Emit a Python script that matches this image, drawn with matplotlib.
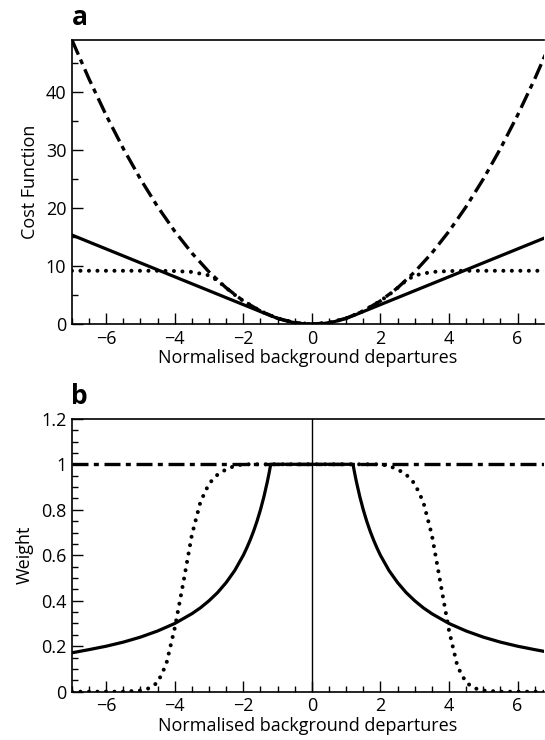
import matplotlib
matplotlib.use("Agg")
import matplotlib.pyplot as plt
from matplotlib.ticker import MultipleLocator

plt.rcParams["font.family"] = ["Open Sans", "DejaVu Sans"]

# panel a: cost functions
x_quad = [-7.0, -6.5, -6.0, -5.5, -5.0, -4.5, -4.0, -3.5, -3.0, -2.5, -2.0, -1.5, -1.0, -0.5,
          0.0, 0.5, 1.0, 1.5, 2.0, 2.5, 3.0, 3.5, 4.0, 4.5, 5.0, 5.5, 6.0, 6.5, 7.0]
cost_quad = [49.0, 42.25, 36.0, 30.25, 25.0, 20.25, 16.0, 12.25, 9.0, 6.25, 4.0, 2.25, 1.0, 0.25,
             0.0, 0.25, 1.0, 2.25, 4.0, 6.25, 9.0, 12.25, 16.0, 20.25, 25.0, 30.25, 36.0, 42.25, 49.0]

x_huber = [-7.0, -1.2, -1.0, -0.8, -0.6, -0.4, -0.2, 0.0, 0.2, 0.4, 0.6, 0.8, 1.0, 1.2, 7.0]
cost_huber = [15.36, 1.44, 1.0, 0.64, 0.36, 0.16, 0.04, 0.0, 0.04, 0.16, 0.36, 0.64, 1.0, 1.44, 15.36]

x_dot = [-7.0, -4.5, -4.0, -3.5, -3.0, -2.75, -2.5, -2.25, -2.0, -1.5, -1.0, -0.5,
         0.0, 0.5, 1.0, 1.5, 2.0, 2.25, 2.5, 2.75, 3.0, 3.5, 4.0, 4.5, 7.0]
cost_dot = [9.2, 9.2, 9.15, 9.0, 8.4, 7.5, 6.25, 5.05, 4.0, 2.25, 1.0, 0.25,
            0.0, 0.25, 1.0, 2.25, 4.0, 5.05, 6.25, 7.5, 8.4, 9.0, 9.15, 9.2, 9.2]

# panel b: weights
x_wquad = [-7.0, 7.0]
w_quad = [1.0, 1.0]

x_whub = [-7.0, -6.5, -6.0, -5.5, -5.0, -4.5, -4.0, -3.5, -3.25, -3.0, -2.75, -2.5, -2.25, -2.0, -1.9, -1.8,
          -1.7, -1.6, -1.5, -1.4, -1.3, -1.25, -1.2,
          1.2, 1.25, 1.3, 1.4, 1.5, 1.6, 1.7, 1.8, 1.9, 2.0, 2.25, 2.5, 2.75, 3.0, 3.25, 3.5, 4.0, 4.5,
          5.0, 5.5, 6.0, 6.5, 7.0]
w_hub = [0.171, 0.185, 0.2, 0.218, 0.24, 0.267, 0.3, 0.343, 0.369, 0.4, 0.436, 0.48, 0.533, 0.6, 0.632, 0.667,
         0.706, 0.75, 0.8, 0.857, 0.923, 0.96, 1.0,
         1.0, 0.96, 0.923, 0.857, 0.8, 0.75, 0.706, 0.667, 0.632, 0.6, 0.533, 0.48, 0.436, 0.4, 0.369, 0.343,
         0.3, 0.267, 0.24, 0.218, 0.2, 0.185, 0.171]

x_wdot = [-7.0, -5.5, -5.0, -4.75, -4.5, -4.25, -4.0, -3.75, -3.5, -3.25, -3.0, -2.75, -2.5, -2.25, -2.0,
          2.0, 2.25, 2.5, 2.75, 3.0, 3.25, 3.5, 3.75, 4.0, 4.25, 4.5, 4.75, 5.0, 5.5, 7.0]
w_dot = [0.0, 0.0, 0.005, 0.015, 0.04, 0.12, 0.28, 0.48, 0.69, 0.835, 0.915, 0.955, 0.978, 0.993, 1.0,
         1.0, 0.993, 0.978, 0.955, 0.915, 0.835, 0.69, 0.48, 0.27, 0.11, 0.04, 0.015, 0.005, 0.0, 0.0]

xticks = [-6, -4, -2, 0, 2, 4, 6]
xlabel = "Normalised background departures"

fig = plt.figure(figsize=(5.45, 7.4), dpi=100)
ax_a = fig.add_axes([0.132, 0.562, 0.866, 0.384])
ax_b = fig.add_axes([0.132, 0.0653, 0.866, 0.3687])

dashdot = (0, (4.8, 1.6, 1.5, 1.7))
dotted = (0, (0.01, 2.1))
fs = 13

ax_a.plot(x_quad, cost_quad, color="black", lw=2.4, linestyle=dashdot, zorder=2)
ax_a.plot(x_dot, cost_dot, color="black", lw=2.9, linestyle=dotted, dash_capstyle="round", zorder=2)
ax_a.plot(x_huber, cost_huber, color="black", lw=2.3, zorder=3)

ax_b.axvline(0, color="black", lw=1.0, zorder=1)
ax_b.plot(x_wquad, w_quad, color="black", lw=2.4, linestyle=dashdot, zorder=2)
ax_b.plot(x_wdot, w_dot, color="black", lw=2.9, linestyle=dotted, dash_capstyle="round", zorder=2)
ax_b.plot(x_whub, w_hub, color="black", lw=2.3, zorder=3)

for ax in (ax_a, ax_b):
    ax.set_xlim(-7.0, 6.77)
    ax.set_xticks(xticks)
    ax.xaxis.set_minor_locator(MultipleLocator(0.5))
    ax.set_xticklabels(["\u22126", "\u22124", "\u22122", "0", "2", "4", "6"])
    ax.tick_params(which="major", direction="in", length=8, width=1.0, labelsize=fs,
                   top=False, right=False, pad=4)
    ax.tick_params(which="minor", direction="in", length=4.5, width=1.0, top=False, right=False)
    ax.spines["right"].set_visible(False)
    for s in ("left", "bottom", "top"):
        ax.spines[s].set_linewidth(1.2)
    ax.set_xlabel(xlabel, fontsize=fs, labelpad=1)

ax_a.set_ylim(0, 49)
ax_a.set_yticks([0, 10, 20, 30, 40])
ax_a.yaxis.set_minor_locator(MultipleLocator(5))
ax_a.set_ylabel("Cost Function", fontsize=fs, labelpad=5)

ax_b.set_ylim(0, 1.2)
ax_b.set_yticks([0, 0.2, 0.4, 0.6, 0.8, 1.0, 1.2])
ax_b.set_yticklabels(["0", "0.2", "0.4", "0.6", "0.8", "1", "1.2"])
ax_b.yaxis.set_minor_locator(MultipleLocator(0.05))
ax_b.set_ylabel("Weight", fontsize=fs, labelpad=5)

fig.text(0.131, 0.966, "a", fontsize=19, fontweight="bold", ha="left", va="baseline")
fig.text(0.131, 0.454, "b", fontsize=19, fontweight="bold", ha="left", va="baseline")

fig.savefig("out.png", dpi=100)
